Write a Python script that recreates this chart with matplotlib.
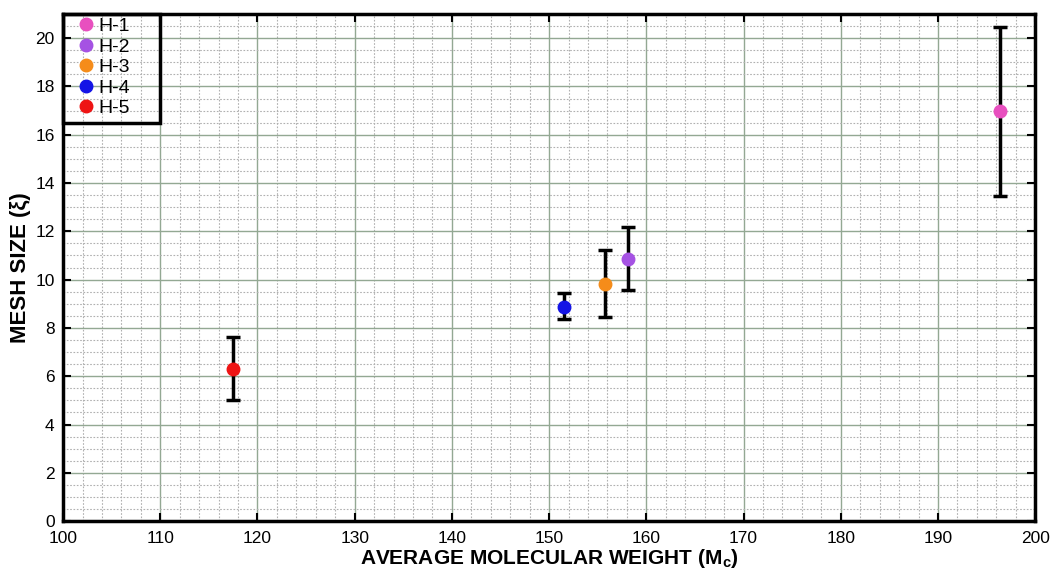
import matplotlib
matplotlib.use("Agg")
import matplotlib.pyplot as plt
from matplotlib.ticker import MultipleLocator
from matplotlib.patches import Rectangle

plt.rcParams['font.family'] = ['Liberation Sans', 'DejaVu Sans']
plt.rcParams['mathtext.fontset'] = 'custom'
plt.rcParams['mathtext.rm'] = 'Liberation Sans'
plt.rcParams['mathtext.bf'] = 'Liberation Sans:bold'

# data
labels = ['H-1', 'H-2', 'H-3', 'H-4', 'H-5']
mw = [196.4, 158.1, 155.7, 151.5, 117.5]
mesh = [16.97, 10.85, 9.82, 8.86, 6.29]
err_low = [13.46, 9.57, 8.45, 8.36, 5.01]
err_high = [20.45, 12.17, 11.22, 9.44, 7.62]
colors = ['#e84fbf', '#a552e3', '#f58c1a', '#1414e6', '#ee1414']

fig = plt.figure(figsize=(10.51, 5.72), dpi=100)
ax = fig.add_axes([0.06, 0.089, 0.925, 0.8865])

for i in range(len(labels)):
    lo = mesh[i] - err_low[i]
    hi = err_high[i] - mesh[i]
    ax.errorbar(mw[i], mesh[i], yerr=[[lo], [hi]], fmt='none', ecolor='black',
                elinewidth=2.5, capsize=5, capthick=2.5, zorder=3)
    ax.plot(mw[i], mesh[i], 'o', color=colors[i], markersize=9, label=labels[i], zorder=4)

ax.set_xlim(100, 200)
ax.set_ylim(0, 21)
ax.xaxis.set_major_locator(MultipleLocator(10))
ax.xaxis.set_minor_locator(MultipleLocator(2))
ax.yaxis.set_major_locator(MultipleLocator(2))
ax.yaxis.set_minor_locator(MultipleLocator(0.5))

ax.grid(which='major', color='#93a893', linewidth=1, linestyle='-')
ax.grid(which='minor', color='#b0b0b0', linewidth=0.8, linestyle=(0, (1.5, 1.5)))
ax.set_axisbelow(True)

ax.tick_params(which='major', direction='in', length=6, width=1.5, labelsize=12.5,
               top=True, right=True)
ax.tick_params(axis='x', which='major', pad=7)
ax.tick_params(axis='y', which='major', pad=6)
ax.tick_params(which='minor', length=0)
for s in ax.spines.values():
    s.set_linewidth(2.5)

ax.set_xlabel('AVERAGE MOLECULAR WEIGHT (M$_\\mathbf{c}$)', fontsize=15,
              fontweight='bold', labelpad=1)
ax.set_ylabel('MESH SIZE (ξ)', fontsize=16, fontweight='bold', labelpad=3)

# legend box, black frame in the top-left corner
ax.add_patch(Rectangle((100, 16.5), 10, 4.5, fill=False, edgecolor='black',
                       linewidth=2.5, zorder=5, clip_on=False))
leg = ax.legend(loc='upper left', fontsize=14, frameon=False,
                bbox_to_anchor=(0.0, 1.02), handletextpad=0.1,
                labelspacing=0.15, borderpad=0.2, handlelength=1.0)

fig.savefig('out.png', dpi=100)
